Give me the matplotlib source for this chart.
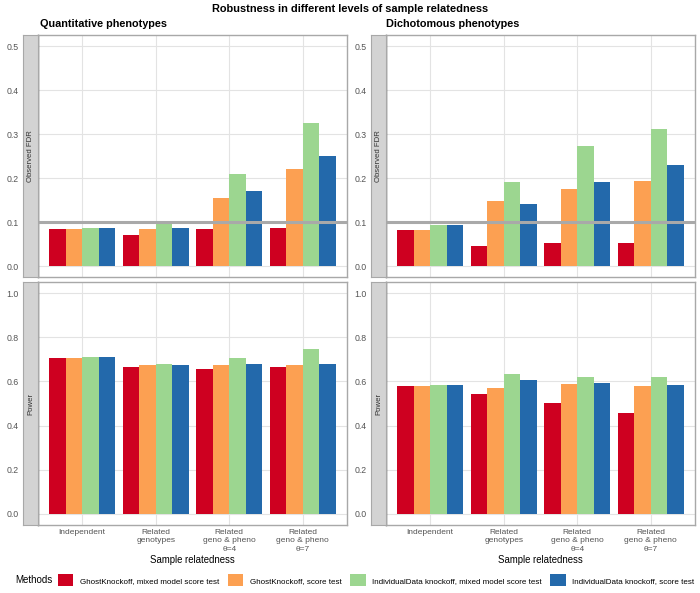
import matplotlib
matplotlib.use("Agg")
import matplotlib.pyplot as plt
import numpy as np
from matplotlib.patches import Patch

plt.rcParams['font.family'] = ['Liberation Sans', 'DejaVu Sans']

categories = ["Independent", "Related\ngenotypes", "Related\ngeno & pheno\n\u03b8=4", "Related\ngeno & pheno\n\u03b8=7"]
methods = ["GhostKnockoff, mixed model score test", "GhostKnockoff, score test",
           "IndividualData knockoff, mixed model score test", "IndividualData knockoff, score test"]
colors = ["#CE0020", "#FCA052", "#9CD690", "#2369AB"]

# rows: method, cols: category
quant_fdr = [[0.083, 0.071, 0.084, 0.087],
             [0.083, 0.083, 0.155, 0.221],
             [0.087, 0.099, 0.209, 0.324],
             [0.087, 0.087, 0.171, 0.250]]
dich_fdr = [[0.081, 0.046, 0.053, 0.053],
            [0.081, 0.147, 0.174, 0.194],
            [0.094, 0.192, 0.272, 0.312],
            [0.094, 0.141, 0.192, 0.230]]
quant_power = [[0.705, 0.667, 0.658, 0.667],
               [0.705, 0.673, 0.676, 0.673],
               [0.709, 0.680, 0.705, 0.745],
               [0.710, 0.676, 0.677, 0.680]]
dich_power = [[0.580, 0.541, 0.503, 0.455],
              [0.580, 0.570, 0.588, 0.579],
              [0.586, 0.632, 0.621, 0.618],
              [0.586, 0.605, 0.591, 0.585]]
target_fdr = 0.1

W, H = 700, 593
fig = plt.figure(figsize=(W / 100, H / 100), dpi=100)


def box(x0, y0, x1, y1):
    return [x0 / W, 1 - y1 / H, (x1 - x0) / W, (y1 - y0) / H]


def panel(rect, strip_rect, data, ylim, yticks, strip_label, bottom, hline=None):
    ax = fig.add_axes(rect)
    x = np.arange(1, len(categories) + 1)
    bw = 0.225
    for j, vals in enumerate(data):
        ax.bar(x + (j - 1.5) * bw, vals, width=bw, color=colors[j], linewidth=0, zorder=2)
    if hline is not None:
        ax.axhline(hline, color="#A9A9A9", lw=2.2, zorder=3)
    ax.set_xlim(0.4, 4.6)
    ax.set_ylim(*ylim)
    ax.set_xticks(x)
    ax.set_yticks(yticks)
    ax.set_yticklabels(["%.1f" % t for t in yticks])
    ax.grid(True, color="#E3E3E3", lw=0.8, zorder=0)
    ax.set_axisbelow(True)
    for s in ax.spines.values():
        s.set_color("#A8A8A8")
        s.set_linewidth(1.0)
    ax.spines["left"].set_color("#333333")
    ax.tick_params(axis="y", length=0, pad=14, labelsize=6.3, labelcolor="#555555")
    if bottom:
        ax.set_xticklabels(categories, fontsize=6.0, color="#555555", linespacing=1.25)
        ax.tick_params(axis="x", length=0, pad=3)
        ax.set_xlabel("Sample relatedness", fontsize=6.9, labelpad=2)
    else:
        ax.tick_params(axis="x", length=0, labelbottom=False)
    sx = fig.add_axes(strip_rect)
    sx.set_facecolor("#D3D3D3")
    sx.set_xticks([])
    sx.set_yticks([])
    for s in sx.spines.values():
        s.set_color("#A8A8A8")
    sx.text(0.5, 0.5, strip_label, rotation=90, ha="center", va="center",
            fontsize=5.6, color="#333333", transform=sx.transAxes)
    return ax


fdr_lim = (-0.025, 0.525)
fdr_ticks = [0.0, 0.1, 0.2, 0.3, 0.4, 0.5]
pow_lim = (-0.05, 1.05)
pow_ticks = [0.0, 0.2, 0.4, 0.6, 0.8, 1.0]

panel(box(38, 35, 347, 277), box(23, 35, 38, 277), quant_fdr, fdr_lim, fdr_ticks, "Observed FDR", False, target_fdr)
panel(box(38, 282, 347, 525), box(23, 282, 38, 525), quant_power, pow_lim, pow_ticks, "Power", True)
panel(box(386, 35, 695, 277), box(371, 35, 386, 277), dich_fdr, fdr_lim, fdr_ticks, "Observed FDR", False, target_fdr)
panel(box(386, 282, 695, 525), box(371, 282, 386, 525), dich_power, pow_lim, pow_ticks, "Power", True)

fig.text(350 / W, 1 - 9 / H, "Robustness in different levels of sample relatedness",
         ha="center", va="center", fontsize=7.9, fontweight="bold")
fig.text(40 / W, 1 - 24 / H, "Quantitative phenotypes", ha="left", va="center", fontsize=7.8, fontweight="bold")
fig.text(386 / W, 1 - 24 / H, "Dichotomous phenotypes", ha="left", va="center", fontsize=7.8, fontweight="bold")

fig.text(15 / W, 1 - 580 / H, "Methods", ha="left", va="center", fontsize=7)
handles = [Patch(facecolor=c, edgecolor="none") for c in colors]
fig.legend(handles, methods, ncol=4, loc="center left", bbox_to_anchor=(58 / W, 1 - 580 / H),
           frameon=False, fontsize=5.8, handlelength=1.9, handleheight=1.9,
           columnspacing=1.1, handletextpad=0.8, borderaxespad=0, borderpad=0)

fig.savefig("out.png", dpi=100)
